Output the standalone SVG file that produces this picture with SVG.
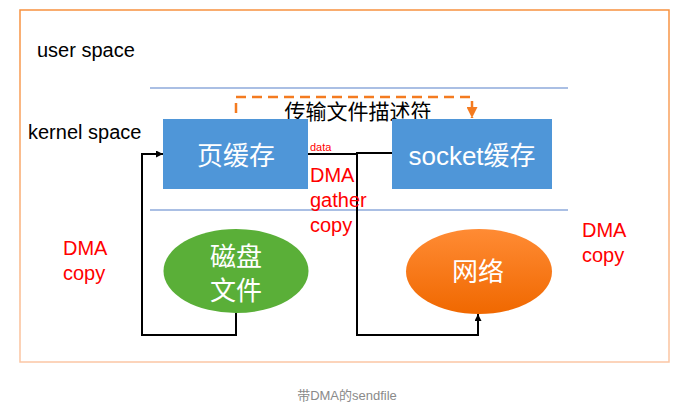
<svg xmlns="http://www.w3.org/2000/svg" width="700" height="416" viewBox="0 0 700 416">
<defs>
<linearGradient id="og" x1="0" y1="0" x2="0" y2="1"><stop offset="0" stop-color="#ff8b34"/><stop offset="1" stop-color="#f06800"/></linearGradient>
<linearGradient id="frame" x1="0" y1="0" x2="0" y2="1"><stop offset="0" stop-color="#f7913f"/><stop offset="1" stop-color="#fbc6a4"/></linearGradient>
<marker id="ab" viewBox="0 0 10 10" refX="10" refY="5" markerWidth="7" markerHeight="7" markerUnits="userSpaceOnUse" orient="auto"><path d="M0,0 L10,5 L0,10 z" fill="#000"/></marker>
<marker id="ao" viewBox="0 0 10 10" refX="10" refY="5" markerWidth="11" markerHeight="11" markerUnits="userSpaceOnUse" orient="auto"><path d="M0,0 L10,5 L0,10 z" fill="#f47b20"/></marker>
<style>
text{font-family:"Liberation Sans","Noto Sans CJK SC",sans-serif}
.lbl{font-size:20px;fill:#000}
.red{font-size:20px;fill:#ff0000}
.box{fill:#4f96d8}
.wt{font-size:26px;fill:#fff;text-anchor:middle}
.sep{stroke:#8eaadb;stroke-width:1.5}
.con{fill:none;stroke:#000;stroke-width:2}
</style>
</defs>
<rect x="20" y="10" width="649" height="352" fill="#fff" stroke="url(#frame)" stroke-width="1.5"/>
<text class="lbl" x="37" y="57">user space</text>
<text class="lbl" x="28" y="139">kernel space</text>
<line class="sep" x1="150" y1="88" x2="568" y2="88"/>
<line class="sep" x1="150" y1="210" x2="568" y2="210"/>
<g id="connectors">
<path d="M236,113 V97 H472 V118" fill="none" stroke="#f47b20" stroke-width="2.5" stroke-dasharray="10,6" marker-end="url(#ao)"/>
<path class="con" d="M236,313 V335 H142 V154 H163" marker-end="url(#ab)"/>
<path class="con" d="M308,154 H358"/>
<path class="con" d="M392,153 H357 V335 H478 V314" marker-end="url(#ab)"/>
</g>
<text x="358" y="119" style="font-size:21px;fill:#000;text-anchor:middle">传输文件描述符</text>
<g id="pagecache">
<rect class="box" x="163" y="119" width="145" height="70"/>
<text class="wt" x="236" y="165">页缓存</text>
</g>
<g id="socketcache">
<rect class="box" x="392" y="119" width="160" height="70"/>
<text class="wt" x="472" y="165">socket缓存</text>
</g>
<g id="disk">
<ellipse cx="236" cy="271" rx="72.5" ry="42" fill="#5aaf38"/>
<text class="wt" x="236" y="266">磁盘</text>
<text class="wt" x="236" y="300">文件</text>
</g>
<g id="network">
<ellipse cx="479" cy="271.5" rx="73" ry="42.5" fill="url(#og)"/>
<text class="wt" x="478" y="281">网络</text>
</g>
<text x="310" y="151" style="font-size:11px;fill:#ff0000">data</text>
<text class="red" x="310" y="182">DMA</text>
<text class="red" x="310" y="207">gather</text>
<text class="red" x="310" y="232">copy</text>
<text class="red" x="63" y="255">DMA</text>
<text class="red" x="63" y="280">copy</text>
<text class="red" x="582" y="237">DMA</text>
<text class="red" x="582" y="262">copy</text>
<text x="347" y="400" style="font-size:13px;fill:#8a8a8a;text-anchor:middle">带DMA的sendfile</text>
</svg>
